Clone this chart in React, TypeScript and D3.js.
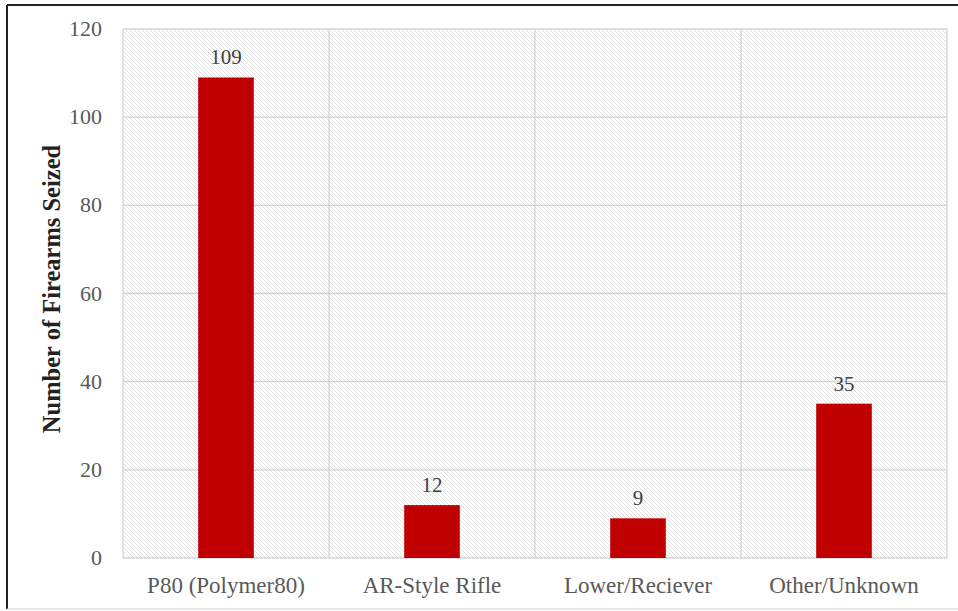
import React from "react";
import * as d3 from "d3";

const categories = ["P80 (Polymer80)", "AR-Style Rifle", "Lower/Reciever", "Other/Unknown"];
const values = [109, 12, 9, 35];
const yTicks = [0, 20, 40, 60, 80, 100, 120];
const yTitle = "Number of Firearms Seized";

export default function App() {
  const W = 958, H = 611;
  const left = 123, right = 947, top = 29, bottom = 558;
  const x = d3.scaleBand<string>().domain(categories).range([left, right]).paddingInner(0).paddingOuter(0);
  const y = d3.scaleLinear().domain([0, 120]).range([bottom, top]);
  const bw = x.bandwidth() * 0.27;
  const font = "'Liberation Serif', 'Times New Roman', serif";
  return (
    <svg width={W} height={H} style={{ position: "absolute", left: 0, top: 0 }}>
      <defs>
        <pattern id="hatch" patternUnits="userSpaceOnUse" width={4} height={4}>
          <rect width={4} height={4} fill="#ffffff" />
          <path d="M-1,-1 L5,5 M-1,3 L1,5 M3,-1 L5,1" stroke="#e2e2e2" strokeWidth={1} />
        </pattern>
      </defs>
      <rect x={0} y={0} width={W} height={H} fill="#ffffff" />
      <line x1={7} y1={5} x2={W} y2={5} stroke="#222" strokeWidth={2} />
      <line x1={7} y1={5} x2={7} y2={609} stroke="#222" strokeWidth={2} />
      <line x1={7} y1={609} x2={W} y2={609} stroke="#d0d0d0" strokeWidth={1} />
      <rect x={left} y={top} width={right - left} height={bottom - top} fill="url(#hatch)" />
      {yTicks.map((t) => (
        <line key={"g" + t} x1={left} x2={right} y1={y(t)} y2={y(t)} stroke="#d4d4d4" strokeWidth={1.3} />
      ))}
      {categories.map((c, i) => (
        <line key={"v" + i} x1={x(c)!} x2={x(c)!} y1={top} y2={bottom} stroke="#d4d4d4" strokeWidth={1.3} />
      ))}
      <line x1={right} x2={right} y1={top} y2={bottom} stroke="#d4d4d4" strokeWidth={1.3} />
      {categories.map((c, i) => {
        const cx = x(c)! + x.bandwidth() / 2;
        return (
          <g key={c}>
            <rect x={cx - bw / 2} y={y(values[i])} width={bw} height={bottom - y(values[i])} fill="#c00000" />
            <text x={cx} y={y(values[i]) - 13} textAnchor="middle" fontFamily={font} fontSize={21} fill="#404040">
              {values[i]}
            </text>
            <text x={cx} y={593} textAnchor="middle" fontFamily={font} fontSize={23} fill="#595959">
              {c}
            </text>
          </g>
        );
      })}
      {yTicks.map((t) => (
        <text key={"t" + t} x={102} y={y(t) + 7} textAnchor="end" fontFamily={font} fontSize={22} fill="#595959">
          {t}
        </text>
      ))}
      <text
        transform={`translate(60,289) rotate(-90)`}
        textAnchor="middle"
        fontFamily={font}
        fontSize={24.5}
        fontWeight="bold"
        fill="#222"
      >
        {yTitle}
      </text>
    </svg>
  );
}
